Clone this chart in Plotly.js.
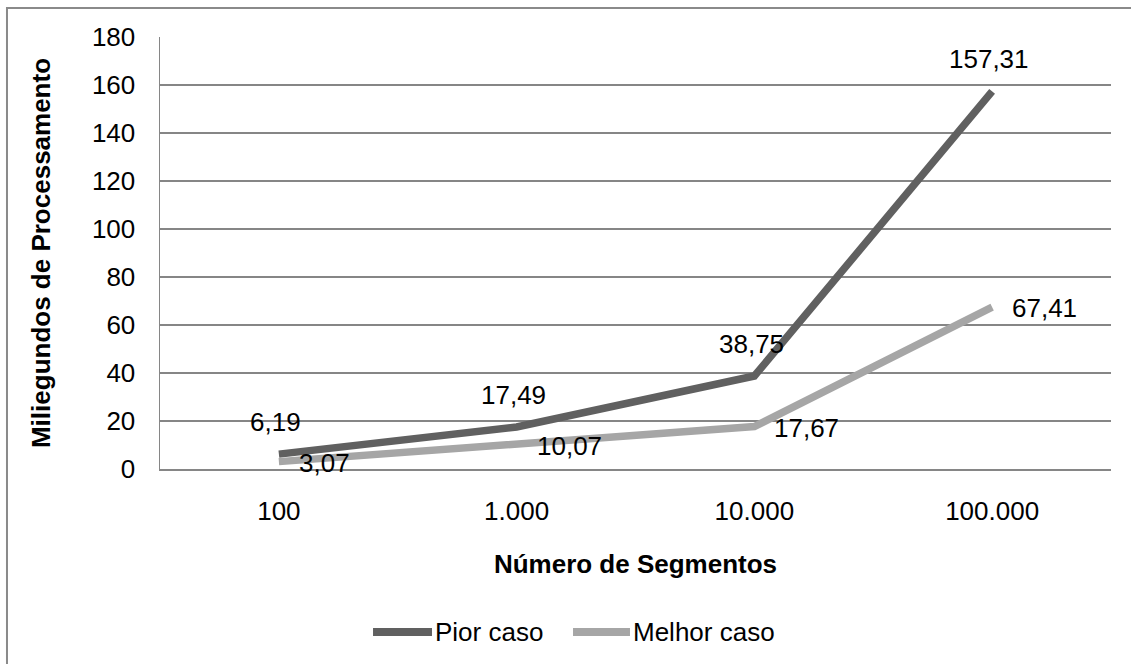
<!DOCTYPE html>
<html>
<head>
<meta charset="utf-8">
<script src="https://cdn.plot.ly/plotly-3.0.1.min.js"></script>
<style>html,body{margin:0;padding:0;background:#fff;}#chart{width:1131px;height:664px;}</style>
</head>
<body>
<div id="chart"></div>
<script>
var categories = ['100', '1.000', '10.000', '100.000'];
var piorCaso = [6.19, 17.49, 38.75, 157.31];
var melhorCaso = [3.07, 10.07, 17.67, 67.41];
var seriesNames = ['Pior caso', 'Melhor caso'];
var seriesColors = ['#606060', '#a6a6a6'];
var yTickValues = [0, 20, 40, 60, 80, 100, 120, 140, 160, 180];

var FONT = 'Liberation Sans, Arial, sans-serif';
var FS = 26;
var fmt = function (v) { return v.toFixed(2).replace('.', ','); };

var traces = [
  {x: categories, y: piorCaso, name: seriesNames[0], type: 'scatter', mode: 'lines',
   line: {color: seriesColors[0], width: 7.5}, showlegend: false},
  {x: categories, y: melhorCaso, name: seriesNames[1], type: 'scatter', mode: 'lines',
   line: {color: seriesColors[1], width: 7.5}, showlegend: false}
];

var annotations = [];
categories.forEach(function (c, i) {
  annotations.push({x: i, y: piorCaso[i], xref: 'x', yref: 'y', text: fmt(piorCaso[i]),
    showarrow: false, xanchor: 'center', yanchor: 'middle', xshift: -3, yshift: 32,
    font: {family: FONT, size: FS, color: '#000'}});
  annotations.push({x: i, y: melhorCaso[i], xref: 'x', yref: 'y', text: fmt(melhorCaso[i]),
    showarrow: false, xanchor: 'left', yanchor: 'middle', xshift: 18, yshift: -1,
    font: {family: FONT, size: FS, color: '#000'}});
});

// legend (drawn manually to match the long line keys)
var legY = -0.3773;
var legItems = [
  {x0: 0.2240, x1: 0.2860, tx: 0.2871},
  {x0: 0.4343, x1: 0.4942, tx: 0.4953}
];
var shapes = [
  {type: 'rect', xref: 'paper', yref: 'paper', x0: -0.1609, x1: 1.06, y0: -0.6, y1: 1.0671,
   line: {color: '#8a8a8a', width: 2}, fillcolor: 'rgba(0,0,0,0)', layer: 'below'}
];
legItems.forEach(function (it, k) {
  shapes.push({type: 'line', xref: 'paper', yref: 'paper', x0: it.x0, x1: it.x1, y0: legY, y1: legY,
    line: {color: seriesColors[k], width: 8}});
  annotations.push({xref: 'paper', yref: 'paper', x: it.tx, y: legY, text: seriesNames[k],
    showarrow: false, xanchor: 'left', yanchor: 'middle',
    font: {family: FONT, size: FS, color: '#000'}});
});

var layout = {
  width: 1131, height: 664,
  margin: {l: 160, r: 20, t: 37, b: 195},
  paper_bgcolor: '#fff', plot_bgcolor: '#fff',
  font: {family: FONT, size: FS, color: '#000'},
  showlegend: false,
  xaxis: {type: 'category', range: [-0.5, 3.5], showgrid: false, zeroline: false,
    showline: true, linecolor: '#868686', linewidth: 1.5, ticks: '',
    ticklabelstandoff: 18, tickfont: {family: FONT, size: FS, color: '#000'},
    title: {text: '<b>Número de Segmentos</b>', font: {family: FONT, size: FS, color: '#000'}, standoff: 30},
    fixedrange: true},
  yaxis: {range: [0, 180], tickvals: yTickValues, showgrid: true, gridcolor: '#868686', gridwidth: 1.5,
    zeroline: false, showline: true, linecolor: '#868686', linewidth: 1.5, ticks: '',
    ticklabelstandoff: 18, tickfont: {family: FONT, size: FS, color: '#000'},
    title: {text: '<b>Miliegundos de Processamento</b>', font: {family: FONT, size: FS, color: '#000'}, standoff: 34},
    fixedrange: true},
  shapes: shapes,
  annotations: annotations
};

Plotly.newPlot('chart', traces, layout, {staticPlot: true, displayModeBar: false});
</script>
</body>
</html>
